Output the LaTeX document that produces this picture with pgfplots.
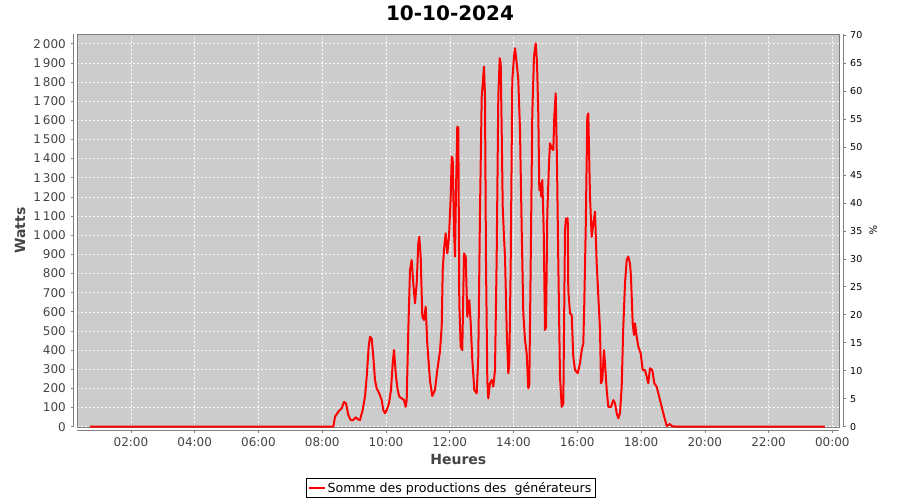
\documentclass[border=0pt]{standalone}
\usepackage{fontspec}
\setmainfont{DejaVu Sans}
\usepackage{pgfplots}
\usepackage{pgfplotstable}
\pgfplotsset{compat=1.18}
\definecolor{plotbg}{RGB}{204,204,204}
\definecolor{axgray}{RGB}{128,128,128}
\definecolor{ticktext}{RGB}{68,68,68}

\pgfplotstableread{
h w
0.715 0
8.347 0
8.400 52
8.504 78
8.610 96
8.683 130
8.745 122
8.817 61
8.893 35
8.974 35
9.050 49
9.112 39
9.184 35
9.269 87
9.341 157
9.395 261
9.457 418
9.498 470
9.551 461
9.602 365
9.655 244
9.708 200
9.790 174
9.865 139
9.915 87
9.969 70
10.022 87
10.094 122
10.157 192
10.210 331
10.251 400
10.282 331
10.314 261
10.367 192
10.417 157
10.492 148
10.565 139
10.618 104
10.649 139
10.700 505
10.753 818
10.806 870
10.856 749
10.910 644
10.963 749
11.013 958
11.045 992
11.088 888
11.139 574
11.192 557
11.245 627
11.295 435
11.380 240
11.452 160
11.537 192
11.609 296
11.694 395
11.747 522
11.779 818
11.819 923
11.873 1010
11.923 905
11.976 992
12.030 1201
12.061 1410
12.092 1400
12.133 1027
12.164 888
12.196 1236
12.236 1567
12.268 1560
12.299 644
12.343 418
12.393 400
12.447 905
12.500 888
12.550 574
12.613 661
12.657 540
12.707 348
12.770 192
12.845 174
12.895 365
12.949 1132
13.002 1723
13.074 1880
13.105 1723
13.137 853
13.178 244
13.209 148
13.262 227
13.315 244
13.366 209
13.419 296
13.472 888
13.523 1723
13.567 1924
13.598 1898
13.629 1549
13.661 1149
13.701 992
13.733 888
13.786 505
13.836 279
13.868 331
13.911 836
13.962 1810
14.015 1932
14.046 1976
14.100 1898
14.150 1810
14.203 1549
14.257 1027
14.307 592
14.360 453
14.413 383
14.464 200
14.495 220
14.539 853
14.589 1636
14.642 1932
14.696 2002
14.737 1898
14.777 1636
14.809 1236
14.840 1271
14.871 1201
14.903 1288
14.947 1027
14.987 505
15.019 522
15.060 1114
15.113 1375
15.144 1480
15.198 1454
15.248 1445
15.279 1619
15.323 1741
15.364 1375
15.405 853
15.458 261
15.511 104
15.562 122
15.615 1027
15.646 1088
15.700 1088
15.718 714
15.772 592
15.825 583
15.875 365
15.929 296
16.013 279
16.085 331
16.139 400
16.189 435
16.220 644
16.264 1027
16.314 1619
16.346 1636
16.377 1375
16.399 1201
16.452 992
16.503 1062
16.556 1123
16.609 853
16.713 505
16.744 227
16.785 244
16.838 400
16.869 331
16.923 192
16.973 104
17.058 104
17.130 139
17.183 122
17.237 70
17.287 44
17.340 70
17.393 209
17.440 505
17.497 749
17.550 870
17.600 888
17.653 853
17.685 783
17.738 540
17.779 479
17.810 540
17.864 470
17.914 418
17.989 383
18.052 296
18.124 296
18.178 261
18.228 227
18.281 305
18.353 296
18.416 227
18.491 209
18.595 139
18.698 70
18.805 4
18.908 14
18.962 3
19.100 0
23.770 0
}\prodtable

\begin{document}
\begin{tikzpicture}[x=1pt,y=1pt]
\useasboundingbox (0,0) rectangle (900,500);
\begin{axis}[
  name=main,
  at={(77.3pt,72.7pt)}, anchor=south west,
  scale only axis, width=762pt, height=393.3pt,
  xmin=0.317, xmax=24.219, ymin=-3.1, ymax=2050.6,
  axis background/.style={fill=plotbg},
  axis line style={draw=axgray, line width=0.8pt},
  xtick={2,4,...,24},
  xticklabels={02:00,04:00,06:00,08:00,10:00,12:00,14:00,16:00,18:00,20:00,22:00,00:00},
  ytick={0,100,...,2000},
  scaled y ticks=false,
  xtick pos=bottom, ytick pos=left,
  tick align=outside,
  major tick length=2.5pt,
  xtick style={draw=axgray, line width=0.6pt, yshift=-3.4pt},
  ytick style={draw=axgray, line width=0.6pt, xshift=-4pt},
  xticklabel style={font=\fontsize{12}{14}\selectfont, text=ticktext, inner sep=0pt, yshift=-7.5pt},
  yticklabel style={font=\fontsize{12}{14}\selectfont, text=ticktext, inner sep=0pt, xshift=-8.8pt},
  /pgf/number format/assume math mode=true,
  /pgf/number format/1000 sep={\,},
  grid=major,
  major grid style={white!92!plotbg, line width=0.5pt, dash pattern=on 2pt off 2pt},
  legend style={at={(0.49,-0.1543)}, anchor=center, draw=black, line width=0.8pt,
    font=\fontsize{12.6}{14}\selectfont, inner xsep=2pt, inner ysep=1.5pt,
    cells={anchor=west}},
  legend image code/.code={\draw[red, line width=1.6pt] (0pt,0pt) -- (16pt,0pt);},
]
\addplot[red, line width=2pt, line join=round] table[x=h, y=w] {\prodtable};
\addlegendentry{Somme des productions des\ \ générateurs}
\end{axis}
\begin{axis}[
  at={(77.3pt,72.7pt)}, anchor=south west,
  scale only axis, width=762pt, height=393.3pt,
  xmin=0.317, xmax=24.219, ymin=-0.107, ymax=70.17,
  axis x line=none, axis y line*=right,
  y axis line style={draw=axgray, line width=0.8pt, xshift=4.4pt},
  ytick={0,5,...,70},
  tick align=outside, major tick length=2.5pt,
  ytick style={draw=axgray, line width=0.6pt, xshift=4.4pt},
  yticklabel style={font=\fontsize{9.5}{11}\selectfont, text=black, inner sep=0pt, xshift=8.2pt},
  /pgf/number format/assume math mode=true,
]
\addplot[draw=none] coordinates {(1,0)};
\end{axis}
\draw[axgray, line width=0.8pt] (73.3,72.7) -- (73.3,466);
\draw[axgray, line width=0.8pt] (77.3,69.3) -- (839.3,69.3);
\node[font=\fontsize{20}{24}\selectfont\bfseries] at (450,487) {10-10-2024};
\node[font=\fontsize{14}{16}\selectfont\bfseries, text=ticktext, rotate=90] at (20,269.5) {Watts};
\node[font=\fontsize{14}{16}\selectfont\bfseries, text=ticktext] at (458.3,40.5) {Heures};
\node[font=\fontsize{10}{12}\selectfont, rotate=-90] at (873.3,270) {\%};
\end{tikzpicture}
\end{document}
